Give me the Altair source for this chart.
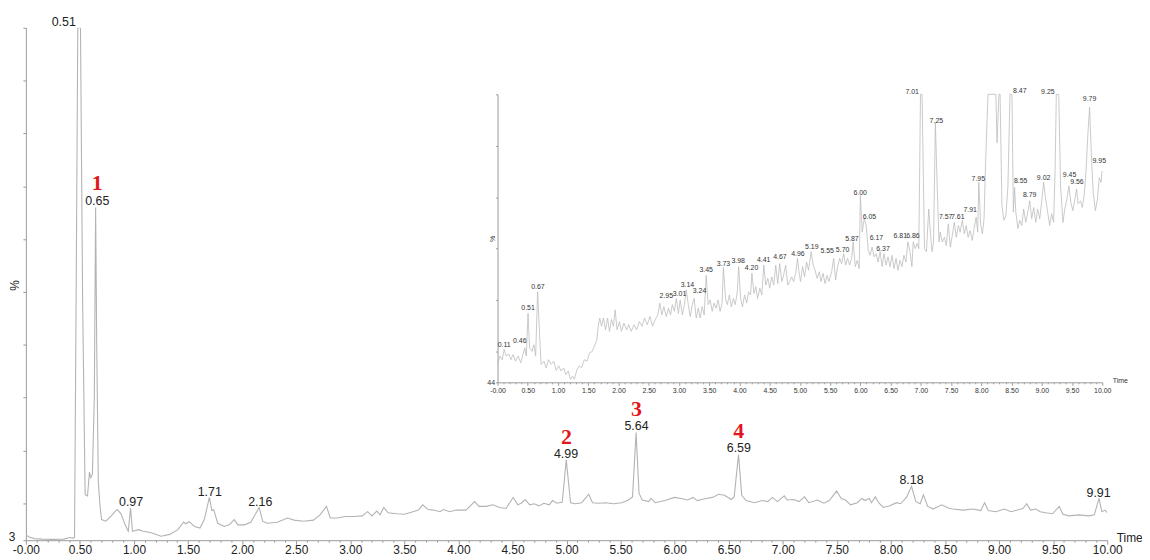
import altair as alt
import pandas as pd

# ---------------- main chromatogram ----------------
main_time = [0.00, 0.03, 0.08, 0.15, 0.25, 0.35, 0.41, 0.43, 0.45, 0.465, 0.48, 0.505, 0.525, 0.548, 0.57, 0.588, 0.60, 0.615, 0.633, 0.645, 0.655, 0.67, 0.686, 0.70, 0.74, 0.79, 0.824, 0.846, 0.88, 0.916, 0.947, 0.968, 0.986, 1.04, 1.085, 1.16, 1.25, 1.33, 1.406, 1.458, 1.48, 1.51, 1.56, 1.61, 1.65, 1.697, 1.72, 1.737, 1.774, 1.835, 1.88, 1.927, 1.96, 2.02, 2.08, 2.135, 2.157, 2.19, 2.23, 2.325, 2.387, 2.42, 2.48, 2.57, 2.66, 2.72, 2.78, 2.815, 2.88, 2.95, 3.03, 3.11, 3.16, 3.20, 3.245, 3.275, 3.31, 3.35, 3.43, 3.50, 3.58, 3.63, 3.67, 3.72, 3.77, 3.83, 3.86, 3.92, 3.98, 4.07, 4.15, 4.19, 4.255, 4.32, 4.38, 4.44, 4.506, 4.55, 4.58, 4.617, 4.66, 4.70, 4.745, 4.79, 4.84, 4.87, 4.91, 4.96, 4.997, 5.037, 5.08, 5.14, 5.205, 5.24, 5.30, 5.36, 5.435, 5.51, 5.572, 5.61, 5.643, 5.67, 5.70, 5.76, 5.78, 5.82, 5.91, 6.00, 6.06, 6.12, 6.17, 6.21, 6.29, 6.35, 6.406, 6.46, 6.523, 6.55, 6.59, 6.62, 6.66, 6.737, 6.81, 6.86, 6.905, 6.95, 7.013, 7.04, 7.10, 7.15, 7.20, 7.24, 7.32, 7.38, 7.43, 7.497, 7.54, 7.58, 7.626, 7.69, 7.73, 7.76, 7.80, 7.82, 7.855, 7.89, 7.93, 7.99, 8.05, 8.09, 8.146, 8.19, 8.23, 8.27, 8.30, 8.34, 8.39, 8.47, 8.53, 8.57, 8.667, 8.76, 8.83, 8.866, 8.90, 8.97, 9.05, 9.11, 9.17, 9.22, 9.255, 9.29, 9.34, 9.38, 9.43, 9.494, 9.556, 9.59, 9.648, 9.74, 9.83, 9.88, 9.924, 9.95, 9.98, 10.0]
main_int = [4.0, 3.6, 3.3, 3.2, 3.15, 3.2, 3.5, 3.4, 3.5, 50, 100, 100, 48, 11.6, 11.4, 15.9, 14.8, 15.5, 30, 66, 40, 14, 9.4, 6.9, 6.6, 7.6, 8.4, 8.8, 8.0, 6.0, 4.7, 9.1, 4.7, 5.0, 4.7, 4.4, 3.75, 4.1, 5.0, 6.4, 6.1, 6.5, 5.6, 5.3, 6.9, 11.1, 8.6, 8.8, 6.2, 5.6, 5.9, 6.9, 5.9, 5.9, 6.4, 8.4, 9.2, 6.6, 6.2, 6.4, 6.9, 7.2, 6.8, 6.6, 6.8, 7.8, 9.4, 7.2, 7.2, 7.5, 7.5, 7.6, 8.4, 7.6, 8.5, 7.8, 9.2, 8.2, 8.0, 7.9, 8.4, 8.7, 9.7, 8.8, 8.7, 8.4, 8.8, 8.4, 8.7, 8.7, 10.3, 9.4, 9.4, 9.7, 9.2, 9.0, 11.1, 9.7, 10.0, 10.7, 9.7, 9.9, 9.5, 10.0, 9.7, 10.5, 10.0, 10.2, 18.2, 10.1, 9.9, 10.1, 11.7, 10.1, 10.0, 10.1, 9.9, 10.1, 10.6, 11.2, 23.4, 11.9, 10.6, 10.3, 10.9, 10.1, 10.5, 11.1, 10.9, 10.6, 11.1, 10.5, 10.9, 11.1, 11.7, 11.5, 10.7, 11.2, 19.2, 11.5, 10.5, 10.1, 10.5, 10.3, 11.1, 10.3, 11.4, 10.6, 10.7, 10.3, 11.2, 10.1, 10.6, 10.0, 10.5, 12.3, 10.9, 10.6, 9.7, 10.1, 10.9, 10.5, 10.9, 10.1, 11.2, 10.0, 9.2, 9.5, 10.1, 9.9, 11.2, 13.2, 10.3, 9.9, 11.6, 9.4, 8.9, 9.7, 9.1, 8.9, 8.7, 8.9, 8.6, 10.1, 8.6, 8.4, 8.9, 8.4, 8.7, 9.0, 9.9, 8.7, 8.9, 8.4, 8.2, 8.0, 9.4, 7.9, 7.6, 7.8, 7.6, 7.8, 10.9, 8.4, 8.7, 8.2]

main_lbl_text = ["0.51", "0.65", "0.97", "1.71", "2.16", "4.99", "5.64", "6.59", "8.18", "9.91"]
main_lbl_t = [0.35, 0.66, 0.973, 1.70, 2.167, 4.995, 5.647, 6.593, 8.19, 9.92]
main_lbl_v = [101.1, 67.2, 10.3, 12.2, 10.3, 19.3, 24.7, 20.4, 14.4, 12.0]

main_num_text = ["1", "2", "3", "4"]
main_num_t = [0.66, 5.0, 5.647, 6.593]
main_num_v = [70.6, 22.5, 27.9, 23.6]

# ---------------- inset chromatogram ----------------
inset_time = [0.00, 0.04, 0.077, 0.11, 0.14, 0.186, 0.22, 0.257, 0.296, 0.34, 0.383, 0.42, 0.45, 0.476, 0.504, 0.53, 0.57, 0.60, 0.63, 0.663, 0.695, 0.72, 0.767, 0.805, 0.843, 0.887, 0.93, 0.97, 1.01, 1.05, 1.095, 1.13, 1.17, 1.205, 1.24, 1.27, 1.314, 1.35, 1.39, 1.435, 1.48, 1.52, 1.566, 1.61, 1.643, 1.665, 1.69, 1.72, 1.75, 1.785, 1.82, 1.85, 1.884, 1.917, 1.944, 1.977, 2.015, 2.05, 2.09, 2.136, 2.17, 2.21, 2.256, 2.30, 2.344, 2.39, 2.43, 2.475, 2.52, 2.563, 2.607, 2.65, 2.683, 2.716, 2.75, 2.79, 2.826, 2.86, 2.89, 2.924, 2.957, 2.99, 3.02, 3.056, 3.09, 3.12, 3.154, 3.187, 3.22, 3.25, 3.286, 3.32, 3.35, 3.384, 3.417, 3.45, 3.483, 3.516, 3.55, 3.58, 3.614, 3.647, 3.68, 3.713, 3.735, 3.77, 3.80, 3.834, 3.866, 3.90, 3.93, 3.965, 3.987, 4.02, 4.05, 4.085, 4.12, 4.15, 4.184, 4.206, 4.24, 4.27, 4.30, 4.337, 4.37, 4.403, 4.436, 4.47, 4.50, 4.534, 4.567, 4.60, 4.633, 4.666, 4.70, 4.73, 4.765, 4.80, 4.83, 4.863, 4.896, 4.93, 4.96, 4.985, 5.01, 5.044, 5.077, 5.11, 5.143, 5.186, 5.22, 5.25, 5.285, 5.32, 5.35, 5.383, 5.416, 5.45, 5.48, 5.525, 5.558, 5.59, 5.624, 5.657, 5.69, 5.723, 5.756, 5.79, 5.822, 5.855, 5.88, 5.915, 5.948, 5.98, 6.00, 6.03, 6.063, 6.096, 6.13, 6.16, 6.194, 6.227, 6.26, 6.293, 6.326, 6.36, 6.39, 6.425, 6.457, 6.49, 6.523, 6.556, 6.59, 6.62, 6.655, 6.687, 6.72, 6.753, 6.786, 6.82, 6.852, 6.874, 6.906, 6.94, 6.966, 6.994, 7.02, 7.06, 7.092, 7.13, 7.157, 7.185, 7.21, 7.24, 7.27, 7.30, 7.32, 7.355, 7.39, 7.42, 7.454, 7.487, 7.52, 7.553, 7.586, 7.62, 7.65, 7.685, 7.718, 7.75, 7.782, 7.815, 7.85, 7.88, 7.914, 7.94, 7.958, 7.99, 8.017, 8.045, 8.07, 8.11, 8.24, 8.26, 8.29, 8.31, 8.34, 8.374, 8.406, 8.44, 8.473, 8.506, 8.53, 8.55, 8.57, 8.604, 8.636, 8.67, 8.70, 8.735, 8.768, 8.80, 8.833, 8.866, 8.90, 8.93, 8.965, 9.00, 9.03, 9.064, 9.097, 9.13, 9.162, 9.195, 9.22, 9.24, 9.28, 9.31, 9.35, 9.38, 9.415, 9.448, 9.48, 9.514, 9.547, 9.575, 9.60, 9.64, 9.67, 9.70, 9.73, 9.76, 9.79, 9.82, 9.85, 9.886, 9.92, 9.95, 9.98, 9.996]
inset_int = [47.5, 49.1, 48.4, 50.4, 49.1, 49.5, 48.4, 49.4, 48.1, 49.1, 47.8, 49.4, 50.7, 49.1, 57.4, 50.7, 50.0, 51.3, 49.1, 61.6, 53.3, 47.5, 48.1, 46.8, 48.4, 47.5, 48.1, 46.3, 47.2, 46.2, 46.8, 45.5, 46.2, 44.6, 45.2, 44.6, 46.5, 47.2, 46.8, 48.4, 48.1, 49.7, 50.0, 51.3, 52.3, 54.9, 56.5, 54.9, 56.5, 54.2, 56.5, 53.9, 56.2, 54.9, 58.1, 54.2, 55.8, 53.9, 55.5, 54.2, 55.2, 53.9, 55.2, 54.2, 55.8, 54.9, 56.5, 55.2, 56.8, 54.9, 56.2, 57.1, 59.4, 57.1, 58.7, 56.8, 58.4, 57.1, 59.1, 57.8, 60.3, 57.4, 60.0, 57.1, 59.1, 62.0, 59.1, 56.8, 59.1, 60.3, 56.5, 58.4, 56.5, 58.7, 57.1, 64.8, 59.1, 60.0, 57.8, 59.4, 58.4, 60.0, 57.8, 59.4, 66.3, 60.3, 59.1, 61.0, 58.7, 60.3, 59.1, 61.6, 66.5, 60.3, 58.7, 61.0, 59.4, 61.6, 61.0, 65.2, 61.3, 62.6, 60.3, 62.3, 61.0, 66.8, 62.9, 64.2, 62.3, 64.5, 62.9, 66.8, 63.2, 67.1, 63.6, 64.8, 66.8, 62.9, 63.6, 64.5, 63.6, 65.2, 68.1, 65.5, 63.6, 66.5, 64.5, 67.4, 65.8, 69.4, 66.8, 65.8, 64.2, 65.5, 63.6, 65.2, 63.2, 64.8, 63.6, 65.5, 68.1, 63.9, 66.5, 68.1, 67.1, 69.0, 66.8, 68.1, 66.8, 68.1, 71.3, 66.5, 67.7, 66.1, 80.3, 73.2, 75.8, 74.5, 69.7, 68.7, 70.3, 68.4, 69.0, 67.4, 69.4, 66.5, 69.0, 66.8, 68.4, 66.5, 68.7, 66.1, 68.1, 65.8, 67.7, 66.5, 68.7, 67.4, 71.3, 69.4, 66.5, 71.3, 70.0, 71.0, 70.0, 100, 100, 70.0, 69.4, 77.7, 73.2, 69.4, 71.3, 94.5, 82.2, 71.3, 73.2, 71.3, 72.2, 70.6, 74.8, 70.3, 72.6, 75.1, 72.2, 74.5, 73.2, 75.5, 72.9, 74.5, 72.2, 73.5, 71.6, 73.9, 76.1, 73.2, 82.9, 74.5, 72.9, 75.8, 86.7, 100, 100, 90.6, 100, 100, 78.4, 75.5, 76.4, 82.2, 100, 100, 77.1, 81.9, 77.1, 73.9, 75.5, 74.5, 77.7, 75.1, 77.1, 79.3, 75.8, 78.0, 75.1, 77.7, 75.8, 79.3, 82.9, 79.6, 77.1, 74.5, 76.8, 75.1, 85.4, 100, 100, 82.2, 75.1, 77.7, 79.6, 82.2, 79.0, 77.4, 79.6, 81.6, 78.7, 79.3, 78.0, 80.3, 84.8, 91.9, 97.5, 88.0, 80.9, 77.4, 79.6, 83.8, 82.9, 85.1]

inset_lbl_text = ["0.11", "0.46", "0.51", "0.67", "2.95", "3.01", "3.14", "3.24", "3.45", "3.73", "3.98", "4.20", "4.41", "4.67", "4.96", "5.19", "5.55", "5.70", "5.87", "6.00", "6.05", "6.17", "6.37", "6.81", "6.86", "7.01", "7.25", "7.57", "7.61", "7.91", "7.95", "8.47", "8.55", "8.79", "9.02", "9.25", "9.45", "9.56", "9.79", "9.95"]
inset_lbl_t = [0.11, 0.367, 0.504, 0.668, 2.79, 3.01, 3.14, 3.34, 3.45, 3.735, 3.98, 4.20, 4.40, 4.67, 4.967, 5.197, 5.45, 5.706, 5.86, 5.997, 6.15, 6.265, 6.375, 6.66, 6.868, 6.856, 7.256, 7.41, 7.61, 7.815, 7.95, 8.636, 8.65, 8.80, 9.03, 9.10, 9.459, 9.58, 9.79, 9.95]
inset_lbl_v = [51.3, 52.0, 58.5, 62.5, 60.8, 61.2, 62.9, 61.8, 65.8, 67.0, 67.6, 66.3, 67.7, 68.4, 68.9, 70.3, 69.5, 69.8, 71.9, 80.8, 76.2, 72.1, 69.9, 72.4, 72.4, 100.4, 94.8, 76.2, 76.2, 77.5, 83.6, 100.6, 83.2, 80.4, 83.7, 100.4, 84.3, 82.9, 99.1, 87.0]

# axis ticks
time_labels = [0.0, 0.5, 1.0, 1.5, 2.0, 2.5, 3.0, 3.5, 4.0, 4.5, 5.0, 5.5, 6.0, 6.5, 7.0, 7.5, 8.0, 8.5, 9.0, 9.5, 10.0]
time_minor = [round(i * 0.1, 1) for i in range(101)]
main_yticks = [3, 10, 20, 30, 40, 50, 60, 70, 80, 90, 100]
inset_yticks = [44, 50, 60, 70, 80, 90, 100]

W, H = 1089, 516
INSET_XR = [475, 1084]
INSET_YR = [357, 67]

FONT = "Liberation Sans"
GRAY_AX = "#9a9a9a"
TRACE = "#b3b3b3"

major_test = "abs(datum.value*2 - round(datum.value*2)) < 0.001"
lbl_expr = "(" + major_test + ") ? (datum.value == 0 ? '-0.00' : format(datum.value, '.2f')) : ''"

main_df = pd.DataFrame({"t": main_time, "v": main_int})
main_lbl_df = pd.DataFrame({"t": main_lbl_t, "v": main_lbl_v, "txt": main_lbl_text})
main_num_df = pd.DataFrame({"t": main_num_t, "v": main_num_v, "txt": main_num_text})
inset_df = pd.DataFrame({"t": inset_time, "v": inset_int})
inset_lbl_df = pd.DataFrame({"t": inset_lbl_t, "v": inset_lbl_v, "txt": inset_lbl_text})

mx = alt.X("t:Q",
           scale=alt.Scale(domain=[0, 10], nice=False, zero=False),
           axis=alt.Axis(values=time_minor, labelExpr=lbl_expr, labelOverlap=False,
                         labelFlush=False, labelFont=FONT, labelFontSize=12,
                         labelColor="#222222", labelPadding=0,
                         tickSize={"condition": {"test": major_test, "value": 4}, "value": 2},
                         tickColor=GRAY_AX, domainColor=GRAY_AX, grid=False,
                         title="Time", titleFont=FONT, titleFontSize=12,
                         titleFontWeight="normal", titleColor="#222222",
                         titleX=1098, titleY=-3, titleBaseline="middle",
                         titleAlign="left", titleAngle=0))
my = alt.Y("v:Q",
           scale=alt.Scale(domain=[3, 100], nice=False, zero=False),
           axis=alt.Axis(values=main_yticks, labelExpr="datum.value == 3 ? '3' : ''",
                         labelFont=FONT, labelFontSize=12, labelColor="#222222",
                         labelOverlap=False, labelFlush=False, labelPadding=8,
                         labelOffset=-4,
                         tickSize=3, tickColor=GRAY_AX, domainColor=GRAY_AX, grid=False,
                         title="%", titleFont=FONT, titleFontSize=12,
                         titleFontWeight="normal", titleColor="#222222",
                         titleX=-11, titleY=259, titleAngle=-90,
                         titleBaseline="middle", titleAlign="center"))

ix = alt.X("t:Q",
           scale=alt.Scale(domain=[0, 10], nice=False, zero=False, range=INSET_XR),
           axis=alt.Axis(orient="bottom", offset=-(H - INSET_YR[0]),
                         values=time_minor, labelExpr=lbl_expr, labelOverlap=False,
                         labelFlush=False, labelFont=FONT, labelFontSize=7,
                         labelColor="#333333", labelPadding=1,
                         tickSize={"condition": {"test": major_test, "value": 3}, "value": 1.5},
                         tickColor=GRAY_AX, domainColor=GRAY_AX, grid=False,
                         title="Time", titleFont=FONT, titleFontSize=7,
                         titleFontWeight="normal", titleColor="#333333",
                         titleX=INSET_XR[1] + 10, titleY=-2,
                         titleBaseline="middle", titleAlign="left", titleAngle=0))
iy = alt.Y("v:Q",
           scale=alt.Scale(domain=[44, 100], nice=False, zero=False, range=INSET_YR),
           axis=alt.Axis(orient="left", offset=-INSET_XR[0],
                         values=inset_yticks, labelExpr="datum.value == 44 ? '44' : ''",
                         labelFont=FONT, labelFontSize=7, labelColor="#333333",
                         labelOverlap=False, labelFlush=False, labelPadding=1,
                         tickSize=2, tickColor=GRAY_AX, domainColor=GRAY_AX, grid=False,
                         title="%", titleFont=FONT, titleFontSize=7,
                         titleFontWeight="normal", titleColor="#333333",
                         titleX=-5, titleY=212, titleAngle=-90,
                         titleBaseline="middle", titleAlign="center"))

main_line = alt.Chart(main_df).mark_line(color=TRACE, strokeWidth=1.1, clip=True,
                                         interpolate="linear").encode(x=mx, y=my)
main_lbl = alt.Chart(main_lbl_df).mark_text(font=FONT, fontSize=12.5, color="#222222",
                                            align="center", baseline="middle").encode(
    x=mx, y=my, text="txt:N")
main_num = alt.Chart(main_num_df).mark_text(font="Liberation Serif", fontSize=22,
                                            fontWeight="bold", color="#e3161d",
                                            align="center", baseline="middle").encode(
    x=mx, y=my, text="txt:N")
main_layer = alt.layer(main_line, main_lbl, main_num)

inset_line = alt.Chart(inset_df).mark_line(color="#bcbcbc", strokeWidth=0.8, clip=True).encode(x=ix, y=iy)
inset_lbl = alt.Chart(inset_lbl_df).mark_text(font=FONT, fontSize=7, color="#333333",
                                              align="center", baseline="middle").encode(
    x=ix, y=iy, text="txt:N")
inset_layer = alt.layer(inset_line, inset_lbl)

chart = alt.layer(main_layer, inset_layer).resolve_scale(
    x="independent", y="independent"
).resolve_axis(x="independent", y="independent").properties(
    width=W, height=H,
    autosize=alt.AutoSizeParams(type="none"),
    padding={"left": 18, "top": 18, "right": 35, "bottom": 18},
    background="white",
).configure_view(stroke=None)

chart.save("out.html", embed_options={"renderer": "svg", "actions": False})
